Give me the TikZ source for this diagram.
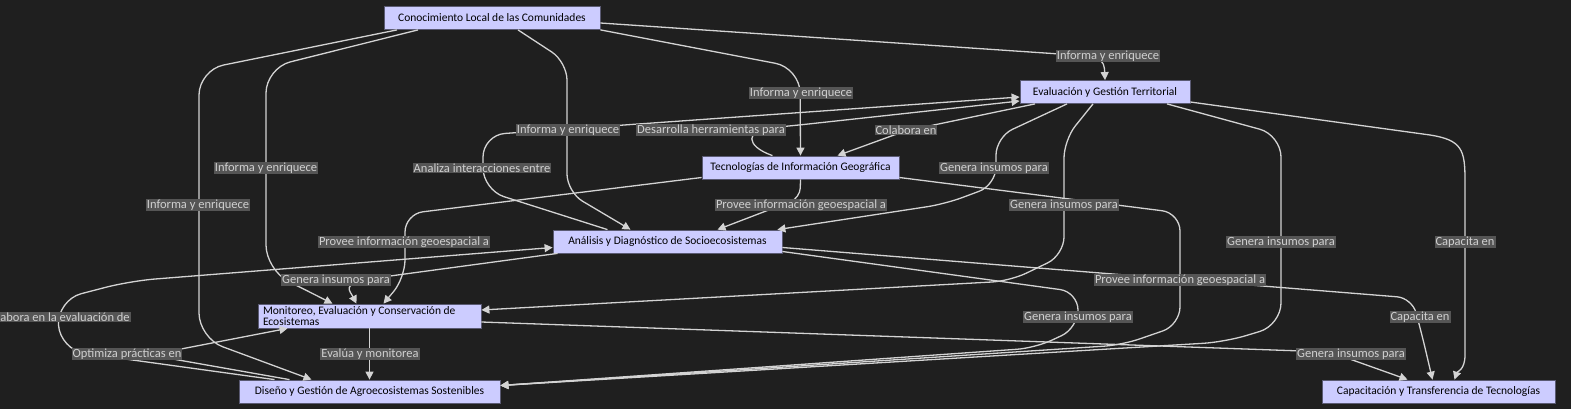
\documentclass[tikz,border=0pt]{standalone}
\usepackage{fontspec}
\setmainfont{Carlito}
\usepackage{tikz}
\usetikzlibrary{arrows.meta}
\definecolor{BgDark}{RGB}{31, 31, 31}
\definecolor{BoxFill}{RGB}{204, 204, 255}
\definecolor{BoxLine}{RGB}{90, 90, 115}
\definecolor{LabFill}{RGB}{85, 85, 85}
\definecolor{LabText}{RGB}{208, 208, 208}
\definecolor{EdgeGrey}{RGB}{211, 211, 211}

\begin{document}
\begin{tikzpicture}[x=1pt, y=-1pt,
  box/.style={draw=BoxLine, line width=0.8pt, fill=BoxFill, text=black, font=\fontsize{11.5}{13}\selectfont, inner sep=0pt, minimum height=23pt},
  lab/.style={fill=LabFill, text=LabText, font=\fontsize{12.5}{14}\selectfont, inner xsep=1pt, inner ysep=1pt},
  arr/.style={-{Triangle[length=8pt, width=8pt]}, EdgeGrey, line width=1.3pt, rounded corners=18pt}]
\fill[BgDark] (0,0) rectangle (1571,409);
\useasboundingbox (0,0) rectangle (1571,409);
\node[box, minimum width=216pt] (clc) at (492, 18) {Conocimiento Local de las Comunidades};
\node[box, minimum width=170pt] (egt) at (1105, 92) {Evaluación y Gestión Territorial};
\node[box, minimum width=197pt] (tig) at (800.5, 167.5) {Tecnologías de Información Geográfica};
\node[box, minimum width=229pt] (ads) at (667.5, 241.5) {Análisis y Diagnóstico de Socioecosistemas};
\node[box, minimum height=24pt, text width=213pt, inner xsep=5pt, align=flush left, font=\fontsize{11.5}{11}\selectfont] (mec) at (369.5, 316) {Monitoreo, Evaluación y Conservación de\\Ecosistemas};
\node[box, minimum width=261pt] (dga) at (369.5, 391.5) {Diseño y Gestión de Agroecosistemas Sostenibles};
\node[box, minimum width=233pt] (ctt) at (1438.5, 391.5) {Capacitación y Transferencia de Tecnologías};
% conocimiento local
\draw[arr, rounded corners=12pt] ([yshift=-5pt]clc.east) -- (1104,57) -- (egt.north);
\draw[arr, rounded corners=25pt] (clc.south east) -- (800,68) -- (tig.north);
\draw[arr] ([xshift=26pt]clc.south) -- (567,62) -- (567,192) -- ([xshift=-37pt]ads.north);
\draw[arr, rounded corners=25pt] ([xshift=-74pt]clc.south) -- (266,68) -- (266,270) -- ([xshift=-37pt]mec.north);
\draw[arr, rounded corners=25pt] ([xshift=-95pt]clc.south) -- (199,70) -- (199,338) -- ([xshift=-58pt]dga.north);
% evaluacion y gestion
\draw[arr, rounded corners=22pt] ([xshift=-60pt]ads.north) -- (483,190) -- (483,135) -- ([yshift=-5pt]egt.west);
\draw[arr] ([xshift=-28pt]tig.north) .. controls (745,146) and (745,130) .. (790,126) -- ([yshift=-9pt]egt.west);
\draw[arr, rounded corners=15pt] ([xshift=-70pt]egt.south) -- (905,131) -- ([xshift=37pt]tig.north);
\draw[arr] ([xshift=-38pt]egt.south) -- (996,137) -- (996,185) -- (945,204) -- ([xshift=-5pt]ads.north east);
\draw[arr] ([xshift=-12pt]egt.south) -- (1064,140) -- (1064,255) -- (1010,281) -- ([yshift=6pt]mec.east);
\draw[arr, rounded corners=22pt] ([xshift=62pt]egt.south) -- (1281,135) -- (1281,325) -- (1225,342) -- ([yshift=6pt]dga.east);
\draw[arr, sharp corners] ([yshift=-10pt]egt.east) -- (1430,135) .. controls (1462,140) and (1465,150) .. (1465,180) -- (1465,355) .. controls (1465,370) and (1457,372) .. ([xshift=16pt]ctt.north);
% tecnologias
\draw[arr, rounded corners=10pt] (tig.south) -- (800,198) -- ([xshift=50pt]ads.north);
\draw[arr] ([yshift=-10pt]tig.west) -- (405,214) -- (405,278) -- ([xshift=14pt]mec.north);
\draw[arr] ([yshift=-10pt]tig.east) -- (1180,213) -- (1180,325) -- (1122,345) -- ([yshift=6pt]dga.east);
% analisis
\draw[arr] ([xshift=5pt]ads.south west) -- (390,276) .. controls (340,283) and (350,291) .. ([xshift=-13pt]mec.north);
\draw[arr] ([yshift=-10pt]ads.east) -- (1078,292) -- (1078,328) -- (1035,348) -- ([yshift=6pt]dga.east);
\draw[arr, rounded corners=15pt] ([yshift=-6pt]ads.east) -- (1412,298) -- (1422,335) -- ([xshift=-6pt]ctt.north);
% diseno y monitoreo
\draw[arr, rounded corners=25pt] ([xshift=-95pt]dga.north) -- (60,350) -- (57,300) -- (130,281) -- ([yshift=-6pt]ads.west);
\draw[arr] ([xshift=-80pt]dga.north) -- (150,355) -- ([xshift=-82pt]mec.south);
\draw[arr] (mec.south) -- (dga.north);
\draw[arr] ([yshift=-6pt]mec.east) -- (1330,352) -- ([xshift=-31pt]ctt.north);
% edge labels
\node[lab] (e1) at (1108, 56) {Informa y enriquece};
\node[lab] (e2) at (801, 93) {Informa y enriquece};
\node[lab] (e3) at (568, 130) {Informa y enriquece};
\node[lab] (e4) at (266, 168) {Informa y enriquece};
\node[lab] (e5) at (198, 205) {Informa y enriquece};
\node[lab] (e6) at (482, 168) {Analiza interacciones entre};
\node[lab] (e7) at (711, 130) {Desarrolla herramientas para};
\node[lab] (e8) at (906, 130) {Colabora en};
\node[lab] (e9) at (994, 168) {Genera insumos para};
\node[lab] (e10) at (1064, 205) {Genera insumos para};
\node[lab] (e11) at (1281, 242) {Genera insumos para};
\node[lab] (e12) at (1465, 242) {Capacita en};
\node[lab] (e13) at (801, 205) {Provee información geoespacial a};
\node[lab] (e14) at (404, 242) {Provee información geoespacial a};
\node[lab] (e15) at (1180, 280) {Provee información geoespacial a};
\node[lab] (e16) at (336, 280) {Genera insumos para};
\node[lab] (e17) at (1078, 317) {Genera insumos para};
\node[lab] (e18) at (1420, 317) {Capacita en};
\node[lab] (e19) at (57, 317) {Colabora en la evaluación de};
\node[lab] (e20) at (127, 354) {Optimiza prácticas en};
\node[lab] (e21) at (370, 354) {Evalúa y monitorea};
\node[lab] (e22) at (1351, 354) {Genera insumos para};
\end{tikzpicture}
\end{document}
